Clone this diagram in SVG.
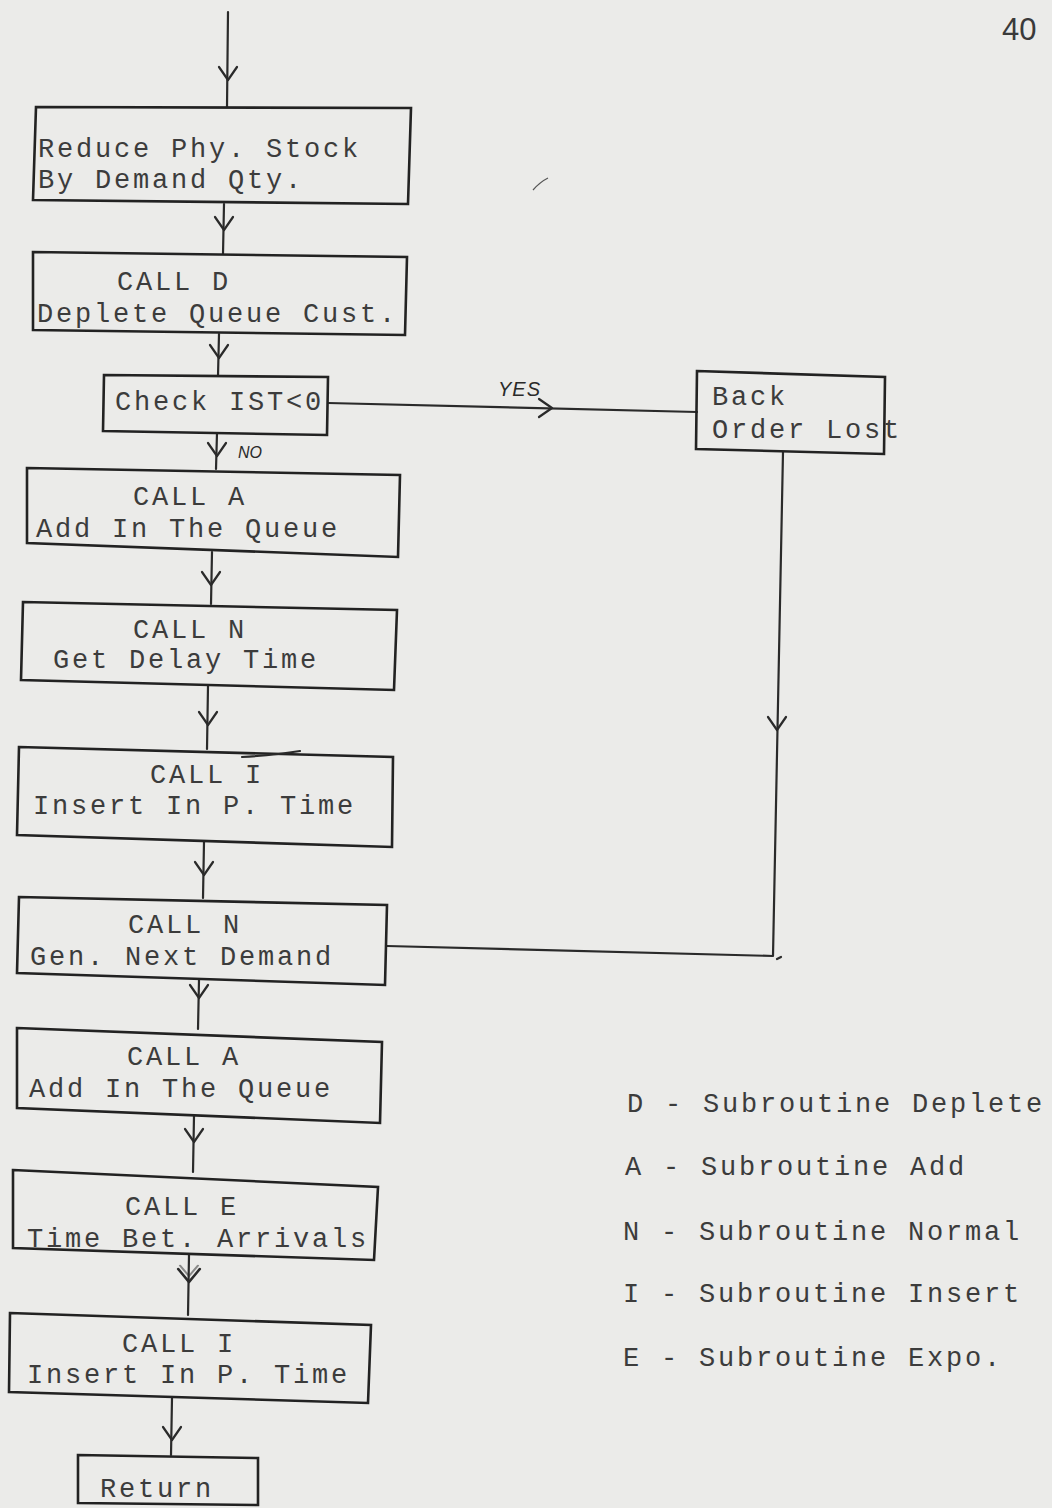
<svg xmlns="http://www.w3.org/2000/svg" xmlns:xlink="http://www.w3.org/1999/xlink" width="1052" height="1508" viewBox="0 0 1052 1508">
<style>
.bg{fill:#ebebe9}
.box{fill:none;stroke:#222;stroke-width:2.6;stroke-linejoin:miter}
.ln{fill:none;stroke:#2a2a2a;stroke-width:2.2;stroke-linecap:round;stroke-linejoin:round}
.t{font-family:"Liberation Mono","Courier New",monospace;font-size:27px;letter-spacing:2.8px;fill:#3c3c3c}
.h{font-family:"Liberation Sans",Arial,sans-serif;font-style:italic;fill:#2a2a2a}
.pg{font-family:"Liberation Sans",Arial,sans-serif;font-size:31px;fill:#3a3a3a}
</style>
<defs>
<path id="chev" d="M-9,-13 L0,0 L9,-13" fill="none" stroke="#2a2a2a" stroke-width="2.2" stroke-linecap="round" stroke-linejoin="round"/>
</defs>
<rect class="bg" x="0" y="0" width="1052" height="1508"/>
<text class="pg" x="1002" y="40">40</text>
<path d="M533,190 Q540,182 548,178" fill="none" stroke="#555" stroke-width="1.2"/>

<g id="connectors">
  <path class="ln" d="M228,12 L227,107"/>
  <use xlink:href="#chev" transform="translate(228,80)"/>
  <path class="ln" d="M224,204 L223,254"/>
  <use xlink:href="#chev" transform="translate(224,230)"/>
  <path class="ln" d="M219,334 L218,376"/>
  <use xlink:href="#chev" transform="translate(219,358)"/>
  <path class="ln" d="M217,433 L216,469"/>
  <use xlink:href="#chev" transform="translate(217,456)"/>
  <text class="h" x="238" y="458" font-size="16">NO</text>
  <path class="ln" d="M212,552 L211,604"/>
  <use xlink:href="#chev" transform="translate(211,585)"/>
  <path class="ln" d="M208,686 L207,749"/>
  <use xlink:href="#chev" transform="translate(208,725)"/>
  <path class="ln" d="M204,842 L203,898"/>
  <use xlink:href="#chev" transform="translate(204,875)"/>
  <path class="ln" d="M199,980 L198,1029"/>
  <use xlink:href="#chev" transform="translate(199,998)"/>
  <path class="ln" d="M194,1116 L193,1172"/>
  <use xlink:href="#chev" transform="translate(194,1142)"/>
  <path class="ln" d="M189,1255 L188,1315"/>
  <use xlink:href="#chev" transform="translate(189,1282) scale(1.2,1)"/>
  <use xlink:href="#chev" transform="translate(189,1276) scale(1,0.8)" opacity="0.5"/>
  <path class="ln" d="M172,1398 L171,1455"/>
  <use xlink:href="#chev" transform="translate(172,1440)"/>
  <path class="ln" d="M328,403 L697,412"/>
  <use xlink:href="#chev" transform="translate(552,408) rotate(-90)"/>
  <text class="h" x="498" y="396" font-size="20" letter-spacing="1">YES</text>
  <path class="ln" d="M783,452 L773,956 L387,946"/>
  <use xlink:href="#chev" transform="translate(777,730)"/>
  <path class="ln" d="M777,959 L781,957" stroke-width="1.8"/>
</g>

<g id="node-reduce">
  <path class="box" d="M36,107 L411,108 L408,204 L33,200 Z"/>
  <text class="t" x="38" y="157">Reduce Phy. Stock</text>
  <text class="t" x="38" y="188">By Demand Qty.</text>
</g>
<g id="node-deplete">
  <path class="box" d="M33,252 L407,257 L405,335 L33,330 Z"/>
  <text class="t" x="117" y="290">CALL D</text>
  <text class="t" x="37" y="322">Deplete Queue Cust.</text>
</g>
<g id="node-check">
  <path class="box" d="M104,375 L328,377 L327,435 L103,431 Z"/>
  <text class="t" x="115" y="410">Check IST&lt;0</text>
</g>
<g id="node-backorder">
  <path class="box" d="M697,371 L885,377 L884,454 L696,449 Z"/>
  <text class="t" x="712" y="405">Back</text>
  <text class="t" x="712" y="438">Order Lost</text>
</g>
<g id="node-add1">
  <path class="box" d="M27,468 L400,475 L398,557 L27,543 Z"/>
  <text class="t" x="133" y="505">CALL A</text>
  <text class="t" x="36" y="537">Add In The Queue</text>
</g>
<g id="node-delay">
  <path class="box" d="M23,602 L397,610 L394,690 L21,680 Z"/>
  <text class="t" x="133" y="638">CALL N</text>
  <text class="t" x="53" y="668">Get Delay Time</text>
</g>
<g id="node-insert1">
  <path class="box" d="M19,747 L393,757 L392,847 L17,835 Z"/>
  <path class="ln" d="M242,757 Q275,755 300,751" stroke-width="1.8"/>
  <text class="t" x="150" y="783">CALL I</text>
  <text class="t" x="33" y="814">Insert In P. Time</text>
</g>
<g id="node-nextdemand">
  <path class="box" d="M19,897 L387,905 L385,985 L17,973 Z"/>
  <text class="t" x="128" y="933">CALL N</text>
  <text class="t" x="30" y="965">Gen. Next Demand</text>
</g>
<g id="node-add2">
  <path class="box" d="M17,1028 L382,1042 L380,1123 L17,1108 Z"/>
  <text class="t" x="127" y="1065">CALL A</text>
  <text class="t" x="29" y="1097">Add In The Queue</text>
</g>
<g id="node-expo">
  <path class="box" d="M13,1170 L378,1187 L374,1260 L13,1248 Z"/>
  <text class="t" x="125" y="1215">CALL E</text>
  <text class="t" x="27" y="1247">Time Bet. Arrivals</text>
</g>
<g id="node-insert2">
  <path class="box" d="M10,1313 L371,1325 L368,1403 L9,1392 Z"/>
  <text class="t" x="122" y="1352">CALL I</text>
  <text class="t" x="27" y="1383">Insert In P. Time</text>
</g>
<g id="node-return">
  <path class="box" d="M78,1455 L258,1458 L258,1505 L78,1503 Z"/>
  <text class="t" x="100" y="1497">Return</text>
</g>

<g id="legend">
  <text class="t" x="627" y="1112">D - Subroutine Deplete</text>
  <text class="t" x="625" y="1175">A - Subroutine Add</text>
  <text class="t" x="623" y="1240">N - Subroutine Normal</text>
  <text class="t" x="623" y="1302">I - Subroutine Insert</text>
  <text class="t" x="623" y="1366">E - Subroutine Expo.</text>
</g>
</svg>
